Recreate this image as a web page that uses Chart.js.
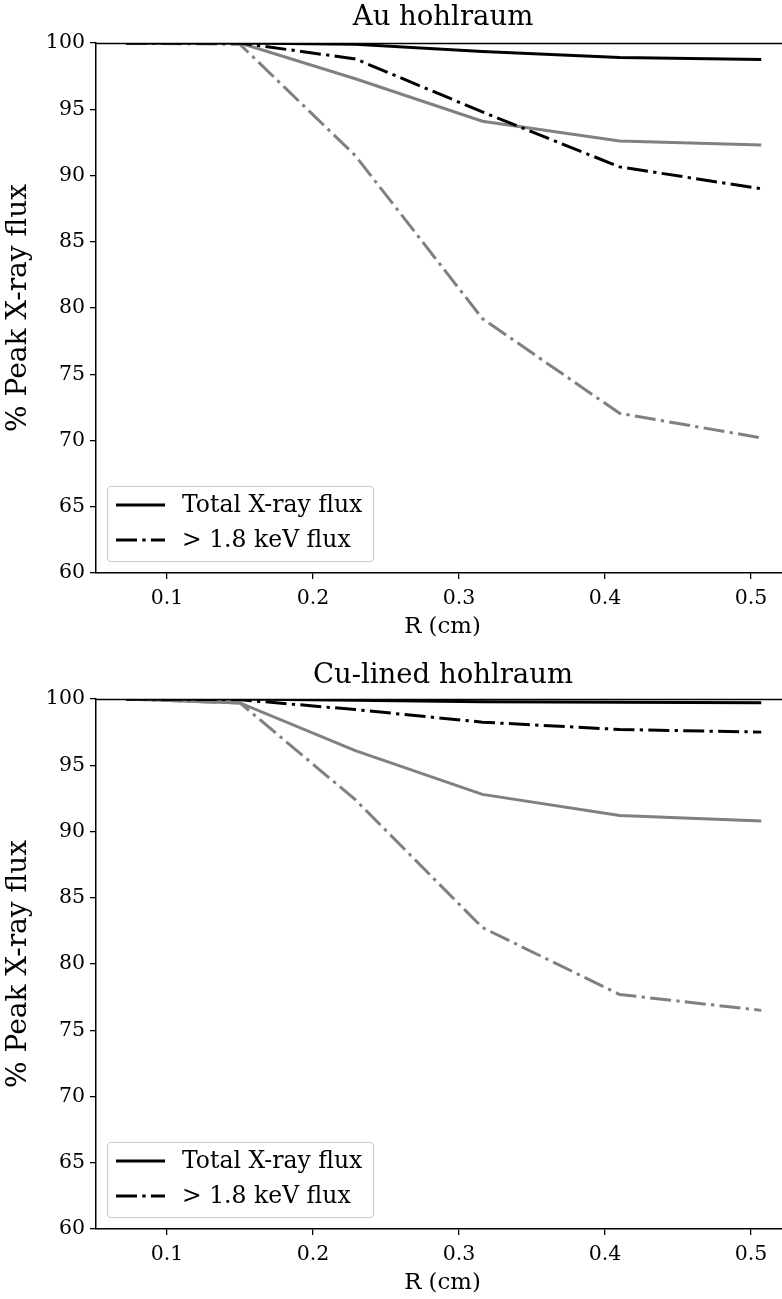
<!DOCTYPE html>
<html>
<head>
<meta charset="utf-8">
<script src="https://cdn.jsdelivr.net/npm/chart.js@4.4.1/dist/chart.umd.min.js"></script>
<style>
  html, body { margin: 0; padding: 0; background: #fff; overflow: hidden; width: 782px; height: 1299px; }
  .box { position: absolute; left: 0; width: 800px; height: 650px; }
  #b1 { top: 0; }
  #b2 { top: 656px; }
</style>
</head>
<body>
<div class="box" id="b1"><canvas id="c1" width="800" height="650"></canvas></div>
<div class="box" id="b2"><canvas id="c2" width="800" height="650"></canvas></div>
<script>
// ---- data ----
const xValues = [0.072, 0.15, 0.229, 0.316, 0.41, 0.507];
const xTicks = [0.1, 0.2, 0.3, 0.4, 0.5];
const xTickLabels = ['0.1', '0.2', '0.3', '0.4', '0.5'];
const yTicks = [60, 65, 70, 75, 80, 85, 90, 95, 100];

const auTotal      = [100, 100, 99.9, 99.35, 98.9, 98.75];
const auHigh       = [100, 100, 98.8, 94.8, 90.65, 89.0];
const auGrayTotal  = [100, 100, 97.3, 94.1, 92.6, 92.3];
const auGrayHigh   = [100, 99.9, 91.5, 79.2, 72.05, 70.2];

const cuTotal      = [100, 100, 99.9, 99.8, 99.75, 99.72];
const cuHigh       = [100, 99.95, 99.2, 98.25, 97.7, 97.5];
const cuGrayTotal  = [100, 99.7, 96.1, 92.8, 91.2, 90.8];
const cuGrayHigh   = [100, 99.7, 92.4, 82.75, 77.7, 76.5];

const legendLabels = ['Total X-ray flux', '> 1.8 keV flux'];
const titles = ['Au hohlraum', 'Cu-lined hohlraum'];

// ---- styles ----
const FONT = "'DejaVu Serif', serif";
const DASHDOT = [21, 5.3, 3.3, 5.3];
const GRAY = '#808080';

function pts(ys) { return xValues.map((x, i) => ({x: x, y: ys[i]})); }

function ds(label, ys, color, dash) {
  return {
    label: label, data: pts(ys), borderColor: color, backgroundColor: color,
    borderWidth: 3, borderDash: dash, pointRadius: 0, tension: 0, fill: false,
    showInLegend: !!label
  };
}

const decorPlugin = {
  id: 'decor',
  afterDatasetsDraw(chart, args, opts) {
    const ctx = chart.ctx, a = chart.chartArea;
    ctx.save();
    // top spine
    ctx.strokeStyle = '#000';
    ctx.lineWidth = 1.3;
    ctx.beginPath();
    ctx.moveTo(a.left, a.top + 0.5);
    ctx.lineTo(chart.width, a.top + 0.5);
    ctx.stroke();
    // title
    ctx.fillStyle = '#000';
    ctx.font = '27.5px ' + FONT;
    ctx.textAlign = 'center';
    ctx.textBaseline = 'middle';
    ctx.fillText(opts.title, 443, opts.titleY);
    // legend
    const lx = a.left + 11, lw = 266, lh = 75, ly = a.bottom - 12 - lh;
    ctx.fillStyle = 'rgba(255,255,255,0.8)';
    ctx.strokeStyle = '#cccccc';
    ctx.lineWidth = 1.2;
    ctx.beginPath();
    ctx.roundRect(lx + 0.5, ly + 0.5, lw, lh, 4);
    ctx.fill();
    ctx.stroke();
    const items = chart.data.datasets.filter(d => d.showInLegend);
    items.forEach((d, i) => {
      const yy = ly + 19 + i * 35;
      ctx.strokeStyle = d.borderColor;
      ctx.lineWidth = d.borderWidth;
      ctx.setLineDash(d.borderDash || []);
      ctx.beginPath();
      ctx.moveTo(lx + 9, yy);
      ctx.lineTo(lx + 58, yy);
      ctx.stroke();
      ctx.setLineDash([]);
      ctx.fillStyle = '#000';
      ctx.font = '23.5px ' + FONT;
      ctx.textAlign = 'left';
      ctx.textBaseline = 'middle';
      ctx.fillText(d.label, lx + 75, yy + 1);
    });
    ctx.restore();
  }
};

function makeChart(id, series, title, titleY) {
  const datasets = [
    ds(legendLabels[0], series[0], '#000', []),
    ds(legendLabels[1], series[1], '#000', DASHDOT),
    ds('', series[2], GRAY, []),
    ds('', series[3], GRAY, DASHDOT)
  ];
  return new Chart(document.getElementById(id), {
    type: 'line',
    data: { datasets: datasets },
    plugins: [decorPlugin],
    options: {
      responsive: false,
      animation: false,
      devicePixelRatio: 1,
      layout: { padding: { top: 43, right: 11, left: 0, bottom: 0 } },
      plugins: {
        legend: { display: false },
        tooltip: { enabled: false },
        decor: { title: title, titleY: titleY }
      },
      scales: {
        x: {
          type: 'linear', min: 0.0514, max: 0.526,
          afterBuildTicks: s => { s.ticks = xTicks.map(v => ({value: v})); },
          afterFit: s => { s.height = 77; },
          ticks: {
            font: { family: FONT, size: 20.5 }, color: '#000', padding: 7,
            maxRotation: 0, autoSkip: false,
            callback: (v) => xTickLabels[xTicks.findIndex(t => Math.abs(t - v) < 1e-6)]
          },
          grid: { display: true, drawOnChartArea: false, drawTicks: true, tickLength: 6, color: '#000', lineWidth: 1.3 },
          border: { display: true, color: '#000', width: 1.5 },
          title: { display: true, text: 'R (cm)', color: '#000', font: { family: FONT, size: 22.8 }, padding: { top: 0, bottom: 9 } }
        },
        y: {
          type: 'linear', min: 60, max: 100,
          afterBuildTicks: s => { s.ticks = yTicks.map(v => ({value: v})); },
          afterFit: s => { s.width = 96; },
          ticks: { font: { family: FONT, size: 20.5 }, color: '#000', padding: 5, callback: v => String(v) },
          grid: { display: true, drawOnChartArea: false, drawTicks: true, tickLength: 6, color: '#000', lineWidth: 1.3 },
          border: { display: true, color: '#000', width: 1.5 },
          title: { display: true, text: '% Peak X-ray flux', color: '#000', font: { family: FONT, size: 28 }, padding: { top: 2, bottom: 0 } }
        }
      }
    }
  });
}

makeChart('c1', [auTotal, auHigh, auGrayTotal, auGrayHigh], titles[0], 18);
makeChart('c2', [cuTotal, cuHigh, cuGrayTotal, cuGrayHigh], titles[1], 20);
</script>
</body>
</html>
